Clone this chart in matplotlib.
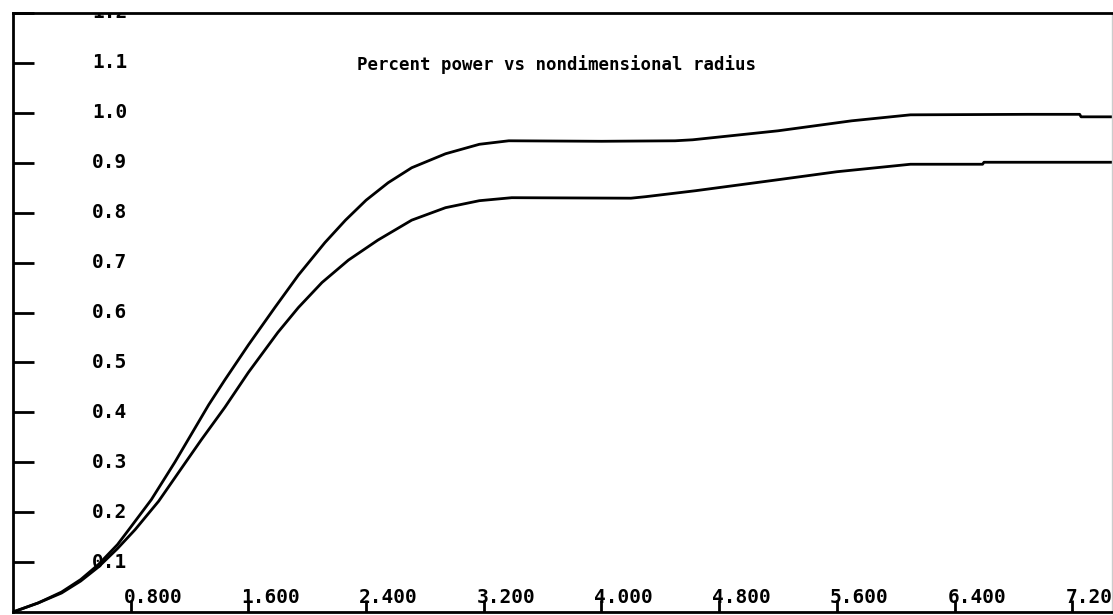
import matplotlib
matplotlib.use("Agg")
import matplotlib.pyplot as plt
import matplotlib.transforms as mtransforms

# radius values and percent power
radius_outer = [0.0, 0.17, 0.33, 0.46, 0.58, 0.71, 0.8, 0.94, 1.1, 1.21, 1.33, 1.44, 1.6, 1.78,
                1.94, 2.12, 2.26, 2.4, 2.55, 2.71, 2.94, 3.17, 3.37, 4.0, 4.5, 4.62, 5.2, 5.7,
                6.1, 6.9, 7.25, 7.26, 7.47]
power_outer = [0.0, 0.018, 0.04, 0.065, 0.095, 0.135, 0.17, 0.225, 0.3, 0.355, 0.415, 0.465, 0.535,
               0.61, 0.675, 0.74, 0.785, 0.825, 0.86, 0.89, 0.918, 0.937, 0.944, 0.943, 0.944, 0.946,
               0.964, 0.984, 0.996, 0.997, 0.997, 0.992, 0.992]

radius_inner = [0.0, 0.17, 0.33, 0.46, 0.58, 0.71, 0.83, 0.99, 1.15, 1.28, 1.44, 1.6, 1.8, 1.94,
                2.1, 2.28, 2.48, 2.71, 2.94, 3.17, 3.39, 4.2, 4.3, 4.64, 5.2, 5.6, 6.1, 6.59,
                6.6, 7.47]
power_inner = [0.0, 0.018, 0.038, 0.062, 0.09, 0.127, 0.165, 0.222, 0.29, 0.345, 0.41, 0.48, 0.56,
               0.61, 0.66, 0.705, 0.745, 0.785, 0.81, 0.824, 0.83, 0.829, 0.832, 0.844, 0.866, 0.882,
               0.897, 0.897, 0.901, 0.901]

xticks = [0.8, 1.6, 2.4, 3.2, 4.0, 4.8, 5.6, 6.4, 7.2]
xlabels = ["0.800", "1.600", "2.400", "3.200", "4.000", "4.800", "5.600", "6.400", "7.20"]
yticks = [0.1, 0.2, 0.3, 0.4, 0.5, 0.6, 0.7, 0.8, 0.9, 1.0, 1.1, 1.2]
ylabels = ["0.1", "0.2", "0.3", "0.4", "0.5", "0.6", "0.7", "0.8", "0.9", "1.0", "1.1", "1.2"]

fig = plt.figure(figsize=(11.13, 6.15), dpi=100)
ax = fig.add_axes([13 / 1113, 3 / 615, 1099 / 1113, 599 / 615])

ax.plot(radius_outer, power_outer, color="black", lw=2)
ax.plot(radius_inner, power_inner, color="black", lw=2)

ax.set_xlim(0, 7.47)
ax.set_ylim(0, 1.2)

for side in ["left", "bottom", "top"]:
    ax.spines[side].set_linewidth(2)
ax.spines["right"].set_linewidth(1)
ax.spines["right"].set_color("#cccccc")

ax.set_xticks(xticks)
ax.set_yticks(yticks)
ax.set_xticklabels([])
ax.set_yticklabels([])
ax.tick_params(axis="x", direction="in", length=9, width=2)
ax.tick_params(axis="y", direction="in", length=15, width=2)

font = dict(family="DejaVu Sans Mono", fontsize=14, fontweight="bold")

# x labels sit just above the axis, first digit on the tick
xtrans = mtransforms.offset_copy(ax.transData, fig=fig, x=-7, y=9, units="dots")
for xv, lab in zip(xticks, xlabels):
    ax.text(xv, 0, lab, transform=xtrans, ha="left", va="baseline", **font)

# y labels inside the axes, to the right of the ticks
ytrans = mtransforms.offset_copy(ax.get_yaxis_transform(), fig=fig, x=79, y=0, units="dots")
for yv, lab in zip(yticks, ylabels):
    ax.text(0, yv, lab, transform=ytrans, ha="left", va="center", clip_on=True, **font)

fig.text(357 / 1113, 1 - 65 / 615, "Percent power vs nondimensional radius",
         ha="left", va="center", family="DejaVu Sans Mono", fontsize=12.5, fontweight="bold")

fig.savefig("out.png", dpi=100)
